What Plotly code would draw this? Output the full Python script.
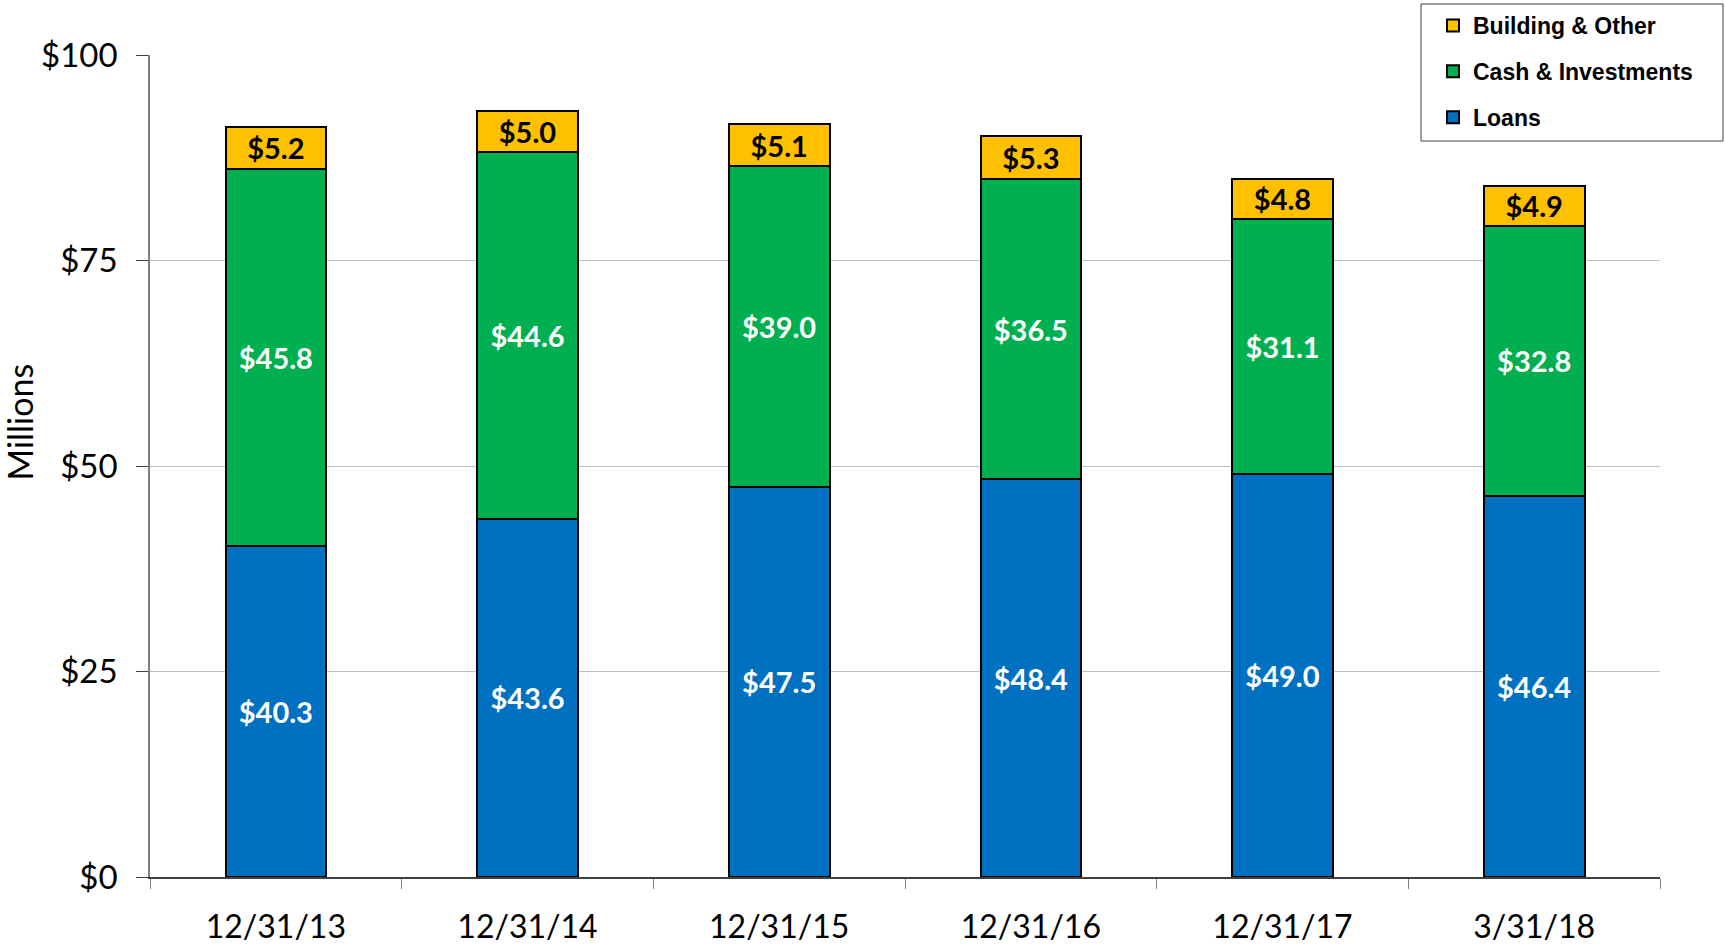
import plotly.graph_objects as go

dates = ["12/31/13", "12/31/14", "12/31/15", "12/31/16", "12/31/17", "3/31/18"]
loans = [40.3, 43.6, 47.5, 48.4, 49.0, 46.4]
cash_investments = [45.8, 44.6, 39.0, 36.5, 31.1, 32.8]
building_other = [5.2, 5.0, 5.1, 5.3, 4.8, 4.9]
y_ticks = [0, 25, 50, 75, 100]
y_tick_labels = ["$0", "$25", "$50", "$75", "$100"]

LABEL_FONT = "Lato, 'Open Sans', sans-serif"
W, H = 1725, 947

fig = go.Figure()

# stacked segments, bottom to top; legend lists them top to bottom
series = [
    ("Loans", loans, "#0070C0", "white", 3),
    ("Cash & Investments", cash_investments, "#00B050", "white", 2),
    ("Building & Other", building_other, "#FFC000", "black", 1),
]
for name, values, color, text_color, rank in series:
    fig.add_trace(go.Bar(
        x=dates,
        y=values,
        name=name,
        legendgroup=name,
        legendrank=rank,
        marker=dict(color=color, line=dict(color="black", width=2)),
        text=[f"${v:.1f}" for v in values],
        textposition="inside",
        insidetextanchor="middle",
        textangle=0,
        constraintext="none",
        textfont=dict(family=LABEL_FONT, size=29, color=text_color, weight="bold"),
        width=0.4,
    ))

# y axis title placed by hand, it sits a bit above the plot centre
fig.add_annotation(
    text="Millions", xref="paper", yref="paper",
    x=-131 / 1510, y=0.553, xanchor="center", yanchor="middle",
    textangle=-90, showarrow=False,
    font=dict(family=LABEL_FONT, size=34, color="black"),
)

# legend frame, drawn separately so it can run to the right edge
fig.add_shape(
    type="rect", xref="paper", yref="paper",
    x0=(1421 - 150) / 1510, x1=(1723 - 150) / 1510,
    y0=(877 - 141) / 822, y1=(877 - 4) / 822,
    line=dict(color="#404040", width=1), fillcolor="rgba(0,0,0,0)",
)

fig.update_layout(
    barmode="stack",
    width=W,
    height=H,
    plot_bgcolor="white",
    paper_bgcolor="white",
    margin=dict(l=150, r=65, t=55, b=70, autoexpand=False),
    showlegend=True,
    legend=dict(
        xref="container", yref="container",
        x=1433 / W, y=1 - 4 / H, xanchor="left", yanchor="top",
        traceorder="grouped",
        tracegroupgap=13,
        borderwidth=0,
        bgcolor="rgba(0,0,0,0)",
        font=dict(family="Arial, 'Liberation Sans', sans-serif", size=23, color="black", weight="bold"),
        itemwidth=30,
    ),
    xaxis=dict(
        type="category",
        tickson="boundaries",
        ticks="outside",
        ticklen=10,
        tickcolor="#808080",
        showline=True,
        linecolor="#404040",
        linewidth=1.5,
        showgrid=False,
        automargin=False,
        ticklabelstandoff=21,
        tickfont=dict(family=LABEL_FONT, size=32, color="black"),
    ),
    yaxis=dict(
        range=[0, 100],
        tickvals=y_ticks,
        ticktext=y_tick_labels,
        ticks="outside",
        ticklen=12,
        tickcolor="#404040",
        showline=True,
        linecolor="#808080",
        linewidth=1.5,
        showgrid=True,
        gridcolor="#BFBFBF",
        gridwidth=1,
        zeroline=False,
        automargin=False,
        ticklabelstandoff=12,
        tickfont=dict(family=LABEL_FONT, size=33, color="black"),
    ),
)

# drop the default 8px body margin so the figure sits flush in the window
fig.write_html(
    "out.html",
    config={"displayModeBar": False},
    post_script="document.body.style.margin='0';",
)
